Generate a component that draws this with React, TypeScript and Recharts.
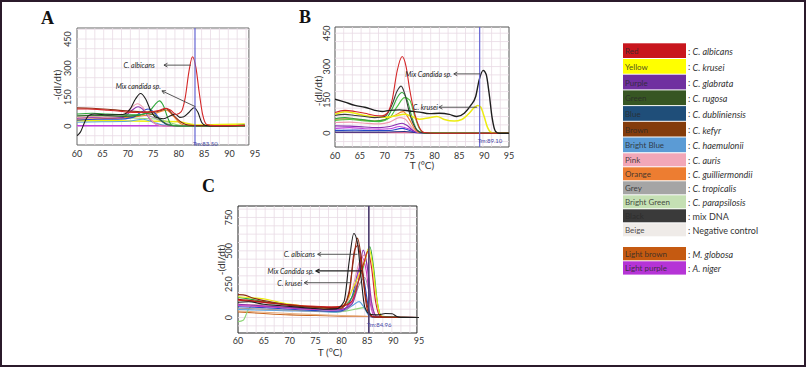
import React from "react";
import { LineChart, Line, XAxis, YAxis, ReferenceLine, ReferenceArea, ReferenceDot } from "recharts";

type Pt = [number, number];

const TEMP_TICKS = [60, 65, 70, 75, 80, 85, 90, 95];
const AB_Y_TICKS = [0, 150, 300, 450];
const C_Y_TICKS = [0, 250, 500, 750];

// ---- panel A : melt curves, -(dI/dt) vs T
const A_RED: Pt[] = [[60, 88], [62, 88], [64, 86], [66, 82], [68, 78], [70, 72], [72, 70], [74, 72], [76, 80], [77.5, 92], [78.5, 80], [79.5, 60], [80.5, 75], [81.3, 150], [82, 280], [82.7, 358], [83.4, 300], [84, 180], [84.7, 60], [85.5, 8], [87, 2], [93, 3]];
const A_BROWN: Pt[] = [[60, 94], [63, 92], [66, 87], [69, 80], [72, 75], [75, 72], [76.5, 80], [77.5, 90], [79, 55], [80.5, 20], [82, 5], [84, 2], [93, 2]];
const A_BLACK: Pt[] = [[60, -50], [60.7, -30], [61.5, 20], [62.3, 55], [63.5, 62], [66, 58], [69, 60], [70.5, 90], [71.5, 140], [72.5, 168], [73.5, 140], [74.5, 80], [75.5, 45], [77, 38], [78.5, 55], [79.3, 62], [80.2, 45], [81, 48], [82, 70], [83, 95], [83.8, 70], [84.5, 20], [85.3, 3], [87, 0], [93, 5]];
const A_GREEN: Pt[] = [[60, 62], [63, 66], [66, 62], [69, 58], [72, 58], [74, 70], [75.3, 110], [76.2, 130], [77, 105], [77.8, 45], [78.6, 5], [80, 0], [93, 0]];
const A_DKGREEN: Pt[] = [[60, 52], [63, 56], [66, 53], [69, 50], [72, 55], [73.5, 65], [75, 60], [76.5, 30], [78, 5], [80, 0], [93, 0]];
const A_PINK: Pt[] = [[60, 45], [63, 48], [66, 46], [69, 50], [70.5, 90], [71.9, 115], [73, 95], [74.2, 45], [75.5, 10], [77, 0], [93, 0]];
const A_PURPLE: Pt[] = [[60, 40], [63, 45], [66, 42], [69, 45], [70.5, 75], [72, 100], [73.2, 80], [74.5, 30], [76, 5], [78, 0], [93, 0]];
const A_BLUE: Pt[] = [[60, 30], [64, 35], [68, 35], [71, 45], [72.5, 70], [74, 88], [75.2, 70], [76.5, 30], [78, 5], [80, 0], [93, 0]];
const A_ORANGE: Pt[] = [[60, 35], [64, 38], [68, 40], [72, 50], [75, 62], [77.6, 82], [79, 50], [80.5, 10], [82, 0], [93, 3]];
const A_YELLOW: Pt[] = [[60, 28], [65, 28], [70, 26], [75, 25], [80, 22], [82, 12], [84, 5], [88, 8], [93, 10]];
const A_LTPURPLE: Pt[] = [[60, 2], [70, 2], [80, 1], [93, 2]];
const A_GREY: Pt[] = [[60, 55], [65, 55], [70, 52], [73, 58], [75, 45], [77, 20], [79, 3], [82, 0], [93, 0]];
const A_LTGREEN: Pt[] = [[60, 45], [64, 48], [68, 45], [72, 40], [76, 35], [78, 20], [80, 5], [82, 0], [93, 0]];
const A_LTBLUE: Pt[] = [[60, 20], [65, 22], [70, 25], [73, 35], [75, 20], [77, 5], [80, 0], [93, 0]];

// ---- panel B
const B_RED: Pt[] = [[60, 93], [62, 103], [64, 98], [66, 90], [68, 80], [69.5, 78], [70.5, 90], [71.5, 150], [72.5, 280], [73.5, 345], [74.3, 300], [75, 200], [76, 90], [77, 25], [78, 3], [80, 0], [95, 0]];
const B_BLACK: Pt[] = [[60, 153], [62, 140], [64, 125], [66, 117], [68, 103], [69.5, 98], [71, 103], [73, 105], [75, 100], [77, 95], [79, 88], [81, 90], [83, 85], [84.5, 75], [86, 90], [87.3, 125], [88.3, 165], [89, 240], [89.8, 283], [90.4, 265], [91, 180], [91.6, 70], [92.3, 8], [93, 0], [95, 0]];
const B_DKGREY: Pt[] = [[60, 80], [62, 85], [64, 80], [66, 75], [68, 70], [70, 75], [71.5, 130], [72.5, 190], [73.3, 212], [74, 180], [75, 90], [76, 30], [77, 5], [79, 0], [95, 0]];
const B_GREEN: Pt[] = [[60, 65], [62, 70], [64, 65], [66, 60], [68, 55], [70, 60], [71.5, 110], [72.5, 160], [73.5, 183], [74.5, 150], [75.5, 70], [76.5, 15], [78, 0], [95, 0]];
const B_GREEN2: Pt[] = [[60, 58], [63, 62], [66, 55], [69, 52], [71, 70], [72.5, 120], [74, 160], [75, 150], [76, 80], [77, 20], [78, 2], [95, 0]];
const B_ORANGE: Pt[] = [[60, 63], [63, 65], [66, 58], [68, 55], [70, 62], [72, 80], [73.7, 97], [75, 60], [76, 20], [77, 3], [95, 0]];
const B_PINK: Pt[] = [[60, 48], [63, 50], [66, 45], [69, 42], [71, 50], [73, 70], [74, 65], [75.5, 25], [77, 3], [95, 0]];
const B_PURPLE: Pt[] = [[60, 33], [63, 32], [66, 28], [69, 25], [71, 30], [73.5, 45], [74.5, 35], [76, 8], [78, 0], [95, 0]];
const B_BLUE: Pt[] = [[60, 13], [64, 14], [68, 12], [71, 12], [73.5, 22], [75, 12], [77, 2], [95, 0]];
const B_LTPURPLE: Pt[] = [[60, 22], [63, 25], [66, 20], [69, 18], [71, 20], [73, 30], [75, 18], [77, 3], [95, 0]];
const B_YELLOW: Pt[] = [[60, 85], [62, 97], [64, 90], [66, 80], [68, 72], [70, 72], [72, 78], [74, 85], [75.5, 75], [77, 63], [79, 70], [80.5, 75], [82, 62], [84, 55], [85.5, 62], [87, 90], [88, 115], [88.7, 125], [89.3, 118], [90, 75], [90.7, 25], [91.3, 5], [92, 0], [95, 0]];
const B_NAVY: Pt[] = [[60, 5], [70, 5], [74, 8], [77, 2], [95, 0]];
const B_PINKBASE: Pt[] = [[60, 3], [80, 2], [95, 2]];

// ---- panel C
const C_BLACK: Pt[] = [[60, 115], [62, 118], [65, 100], [68, 90], [71, 80], [74, 70], [77, 62], [79, 65], [80.5, 120], [81.5, 420], [82.4, 630], [83.1, 560], [83.8, 300], [84.5, 80], [85.5, 25], [87, 20], [88.5, 30], [89.8, 28], [90.7, 8], [91.5, 0], [95, 0]];
const C_BROWN: Pt[] = [[60, 172], [61, 170], [63, 145], [66, 120], [69, 100], [72, 85], [75, 75], [78, 68], [80, 70], [81.5, 200], [82.4, 450], [83.1, 595], [83.8, 460], [84.6, 180], [85.5, 30], [86.5, 3], [95, 0]];
const C_DKRED: Pt[] = [[60, 136], [63, 125], [66, 110], [69, 95], [72, 85], [75, 80], [78, 75], [80, 80], [81.5, 180], [82.5, 500], [83.2, 540], [84, 350], [85, 60], [86, 5], [95, 0]];
const C_YELLOW: Pt[] = [[60, 156], [62, 150], [65, 140], [68, 115], [71, 95], [74, 80], [77, 72], [80, 80], [82, 200], [83.5, 330], [84.5, 420], [85.3, 520], [86, 400], [86.8, 150], [87.5, 20], [88.5, 0], [95, 0]];
const C_GREEN: Pt[] = [[60, 150], [62, 140], [65, 120], [68, 105], [71, 90], [74, 80], [77, 75], [80, 80], [82, 150], [84, 350], [85.5, 530], [86.2, 380], [87, 100], [87.8, 10], [95, 0]];
const C_RED: Pt[] = [[60, 130], [63, 120], [66, 110], [69, 100], [72, 90], [75, 85], [78, 80], [80, 85], [82, 120], [83.5, 300], [84.5, 430], [85.1, 495], [85.8, 380], [86.6, 120], [87.4, 15], [88.5, 0], [95, 0]];
const C_PURPLE: Pt[] = [[60, 99], [63, 92], [66, 85], [69, 78], [72, 70], [75, 65], [78, 60], [80, 62], [82, 100], [83.4, 300], [84.2, 505], [85, 380], [85.8, 120], [86.8, 10], [95, 0]];
const C_MAGENTA: Pt[] = [[60, 90], [63, 85], [66, 80], [69, 72], [72, 65], [75, 60], [78, 55], [80, 60], [82, 120], [83.3, 350], [84, 450], [84.8, 350], [85.6, 100], [86.5, 5], [95, 0]];
const C_BLUE: Pt[] = [[60, 81], [63, 78], [66, 72], [69, 65], [72, 58], [75, 52], [78, 48], [80, 50], [82, 150], [83.7, 382], [84.5, 250], [85.3, 60], [86, 5], [95, 0]];
const C_PINK: Pt[] = [[60, 100], [63, 95], [66, 88], [70, 80], [74, 72], [78, 65], [80, 70], [82, 200], [83.5, 420], [84.5, 470], [85.3, 300], [86, 80], [87, 5], [95, 0]];
const C_LTBLUE: Pt[] = [[60, 60], [65, 55], [70, 50], [75, 45], [79, 40], [81, 60], [82.5, 100], [83.4, 119], [84.3, 80], [85.2, 20], [86, 0], [95, 0]];
const C_LTGREEN: Pt[] = [[60, -31], [61, -20], [62, 60], [63, 95], [66, 90], [70, 75], [75, 55], [79, 40], [81, 50], [83, 65], [84.3, 74], [85.2, 40], [86, 5], [95, 0]];
const C_ORANGE: Pt[] = [[60, 49], [65, 40], [70, 30], [75, 22], [80, 15], [85, 10], [90, 5], [95, 0]];
const C_LTBROWN: Pt[] = [[60, 42], [65, 30], [70, 20], [75, 15], [80, 10], [85, 8], [90, 2], [95, 0]];
const C_GREY: Pt[] = [[60, 70], [64, 65], [68, 58], [72, 52], [76, 45], [80, 48], [82, 100], [83.5, 250], [84.5, 300], [85.3, 200], [86, 60], [87, 3], [95, 0]];

// legend
const LEGEND_NAMES = ["Red", "Yellow", "Purple", "Green", "Blue", "Brown", "Bright Blue", "Pink", "Orange", "Grey", "Bright Green", "Black", "Beige", "Light brown", "Light purple"];
const LEGEND_SPECIES = ["C. albicans", "C. krusei", "C. glabrata", "C. rugosa", "C. dubliniensis", "C. kefyr", "C. haemulonii", "C. auris", "C. guilliermondii", "C. tropicalis", "C. parapsilosis", "mix DNA", "Negative control", "M. globosa", "A. niger"];
const LEGEND_COLORS = ["#c8161d", "#ffff00", "#7030a0", "#375623", "#1f4e79", "#843c0c", "#5b9bd5", "#f2a7b8", "#ed7d31", "#a5a5a5", "#c5e0b4", "#3a3a3a", "#efebe8", "#c55a11", "#b534d6"];

const C = {
  red: "#d42626", brown: "#8b2d12", black: "#1e1e1e", green: "#2fa83a", dkgreen: "#2d6e2a",
  pink: "#ef9ab0", purple: "#8a2fb0", ltpurple: "#c040e0", blue: "#2448c8", ltblue: "#5aa2e0",
  orange: "#f0802a", yellow: "#ecec10", grey: "#9a9a9a", ltgreen: "#8fd67a", ltbrown: "#c8641e", navy: "#283080",
};

type Series = { pts: Pt[]; color: string; w?: number };

const A_SERIES: Series[] = [
  { pts: A_LTPURPLE, color: C.ltpurple, w: 1.5 }, { pts: A_YELLOW, color: C.yellow, w: 1.5 }, { pts: A_LTBLUE, color: C.ltblue },
  { pts: A_LTGREEN, color: C.ltgreen }, { pts: A_GREY, color: C.grey }, { pts: A_ORANGE, color: C.orange },
  { pts: A_BLUE, color: C.blue }, { pts: A_PURPLE, color: C.purple }, { pts: A_PINK, color: C.pink },
  { pts: A_DKGREEN, color: C.dkgreen }, { pts: A_GREEN, color: C.green }, { pts: A_BROWN, color: C.brown },
  { pts: A_BLACK, color: C.black }, { pts: A_RED, color: C.red },
];
const B_SERIES: Series[] = [
  { pts: B_PINKBASE, color: "#e05080" }, { pts: B_NAVY, color: C.navy }, { pts: B_BLUE, color: C.blue },
  { pts: B_LTPURPLE, color: C.ltpurple }, { pts: B_PURPLE, color: C.purple }, { pts: B_PINK, color: C.pink },
  { pts: B_ORANGE, color: C.orange }, { pts: B_GREEN2, color: "#4cc43c" }, { pts: B_GREEN, color: C.green },
  { pts: B_YELLOW, color: C.yellow, w: 1.5 }, { pts: B_DKGREY, color: "#3c3c3c" }, { pts: B_RED, color: C.red },
  { pts: B_BLACK, color: C.black, w: 1.4 },
];
const C_SERIES: Series[] = [
  { pts: C_LTBROWN, color: C.ltbrown }, { pts: C_ORANGE, color: "#e8b080" }, { pts: C_LTGREEN, color: C.ltgreen },
  { pts: C_LTBLUE, color: C.ltblue }, { pts: C_GREY, color: C.grey }, { pts: C_BLUE, color: C.blue },
  { pts: C_PINK, color: C.pink }, { pts: C_MAGENTA, color: "#d040c0" }, { pts: C_PURPLE, color: C.purple },
  { pts: C_GREEN, color: C.green }, { pts: C_YELLOW, color: C.yellow }, { pts: C_RED, color: C.red },
  { pts: C_DKRED, color: "#b01818" }, { pts: C_BROWN, color: C.brown }, { pts: C_BLACK, color: C.black },
];

type Note = { text: string; tx: number; ty: number; x1: number; x2: number; y1: number; y2: number; heavy?: boolean };

const A_NOTES: Note[] = [
  { text: "C. albicans", tx: 75.3, ty: 315, x1: 77.1, y1: 315, x2: 82.4, y2: 315 },
  { text: "Mix candida sp.", tx: 76.5, ty: 205, x1: 76.7, y1: 182, x2: 83.3, y2: 100 },
];
const B_NOTES: Note[] = [
  { text: "Mix Candida sp.", tx: 83.5, ty: 267, x1: 83.9, y1: 267, x2: 89.2, y2: 267 },
  { text: "C. krusei", tx: 80.7, ty: 117, x1: 80.9, y1: 117, x2: 88.6, y2: 117 },
];
const C_NOTES: Note[] = [
  { text: "C. albicans", tx: 74.9, ty: 474, x1: 75.4, y1: 474, x2: 83.1, y2: 474 },
  { text: "Mix Candida sp.", tx: 74.7, ty: 349, x1: 75.1, y1: 349, x2: 84, y2: 349, heavy: true },
  { text: "C. krusei", tx: 72.4, ty: 261, x1: 72.8, y1: 261, x2: 81.9, y2: 261 },
];

const FONT = "Lato, 'Open Sans', sans-serif";
const GRID = "#e9dbe4";

function range(from: number, to: number, step: number) {
  const out: number[] = [];
  for (let v = from; v <= to + 1e-9; v += step) out.push(v);
  return out;
}

function Arrow(p: any) {
  const { x1, y1, x2, y2, stroke, strokeWidth } = p;
  const ang = Math.atan2(y2 - y1, x2 - x1);
  const L = 4;
  const a1 = ang + 0.5, a2 = ang - 0.5;
  return (
    <g>
      <line x1={x1} y1={y1} x2={x2} y2={y2} stroke={stroke} strokeWidth={strokeWidth} />
      <path
        d={`M${x1 + L * Math.cos(a1)},${y1 + L * Math.sin(a1)} L${x1},${y1} L${x1 + L * Math.cos(a2)},${y1 + L * Math.sin(a2)}`}
        fill="none" stroke={stroke} strokeWidth={strokeWidth} />
    </g>
  );
}

type PanelProps = {
  left: number; top: number; width: number; height: number;
  margin: { top: number; right: number; bottom: number; left: number };
  yDomain: [number, number]; yTicks: number[]; boxRight: number; yGridStep: number;
  series: Series[]; tm: number; tmLabel: string; tmLabelY: number; tmColor: string; tmWidth: number;
  notes: Note[]; border: string; tickDx: number; tickDy: number;
};

function Panel(p: PanelProps) {
  const vGrid = range(60 + 1.75, p.boxRight - 0.1, 1.75);
  const hGrid = range(Math.ceil(p.yDomain[0] / p.yGridStep) * p.yGridStep, p.yDomain[1], p.yGridStep);
  return (
    <div style={{ position: "absolute", left: p.left, top: p.top }}>
      <LineChart width={p.width} height={p.height} margin={p.margin}>
        <XAxis
          dataKey="t" type="number" domain={[60, 95]} ticks={TEMP_TICKS} allowDataOverflow
          axisLine={false} tickLine={false} tickSize={0} tickMargin={0} height={20}
          tick={(t: any) => (
            <text x={t.x} y={t.y + p.tickDy} textAnchor="middle" dominantBaseline="central" fontSize={9} fill="#333" fontFamily={FONT}>
              {t.payload.value}
            </text>
          )}
        />
        <YAxis
          type="number" domain={p.yDomain} ticks={p.yTicks} allowDataOverflow
          axisLine={false} tickLine={false} tickSize={0} tickMargin={0} width={20}
          tick={(t: any) => (
            <text x={t.x - p.tickDx} y={t.y} transform={`rotate(-90 ${t.x - p.tickDx} ${t.y})`} textAnchor="middle"
              dominantBaseline="central" fontSize={9} fill="#333" fontFamily={FONT}>
              {t.payload.value}
            </text>
          )}
        />
        {vGrid.map((v) => (
          <ReferenceLine key={"gv" + v} x={v} stroke={GRID} strokeWidth={0.8} />
        ))}
        {hGrid.map((v) => (
          <ReferenceLine key={"gh" + v} segment={[{ x: 60, y: v }, { x: p.boxRight, y: v }]} stroke={GRID} strokeWidth={0.8} />
        ))}
        {p.series.map((s, i) => (
          <Line key={i} data={s.pts.map(([t, v]) => ({ t, v }))} dataKey="v" type="monotone" stroke={s.color}
            strokeWidth={s.w ?? 1.1} dot={false} activeDot={false} isAnimationActive={false} />
        ))}
        <ReferenceLine x={p.tm} stroke={p.tmColor} strokeWidth={p.tmWidth} />
        <ReferenceDot x={p.tm} y={p.tmLabelY} r={0}
          shape={(d: any) => (
            <text x={d.cx - 2} y={d.cy} fontSize={6} fill="#4848a8" fontFamily={FONT} dominantBaseline="central">{p.tmLabel}</text>
          )} />
        {p.notes.map((n, i) => (
          <ReferenceLine key={"l" + i} segment={[{ x: n.x1, y: n.y1 }, { x: n.x2, y: n.y2 }]}
            stroke={n.heavy ? "#222" : "#444"} strokeWidth={n.heavy ? 1.3 : 0.9} shape={Arrow} />
        ))}
        {p.notes.map((n, i) => (
          <ReferenceDot key={"t" + i} x={n.tx} y={n.ty} r={0}
            shape={(d: any) => (
              <text x={d.cx} y={d.cy} textAnchor="end" dominantBaseline="central" fontSize={7} fontStyle="italic"
                fill="#222" fontFamily={FONT}>{n.text}</text>
            )} />
        ))}
        <ReferenceArea x1={60} x2={p.boxRight} y1={p.yDomain[0]} y2={p.yDomain[1]} fill="none" fillOpacity={0}
          stroke={p.border} strokeWidth={1} ifOverflow="visible" />
      </LineChart>
    </div>
  );
}

function Legend() {
  const rows: { y: number; h: number }[] = [];
  for (let i = 0; i < 7; i++) rows.push({ y: 43.3 + i * 15.7, h: 15.7 });
  for (let i = 0; i < 6; i++) rows.push({ y: 153.3 + i * 14, h: 14 });
  rows.push({ y: 247, h: 14.3 });
  rows.push({ y: 261.3, h: 14.3 });
  return (
    <g>
      {LEGEND_NAMES.map((name, i) => {
        const r = rows[i];
        const italic = !["mix DNA", "Negative control"].includes(LEGEND_SPECIES[i]);
        return (
          <g key={name}>
            <rect x={623} y={r.y} width={63} height={r.h - 1} fill={LEGEND_COLORS[i]} />
            <text x={625} y={r.y + r.h / 2} dominantBaseline="central" fontSize={8} fill="#2a2a2a" fillOpacity={0.85} fontFamily={FONT}>
              {name}
            </text>
            <text x={688} y={r.y + r.h / 2} dominantBaseline="central" fontSize={9} fill="#333" fontFamily={FONT}>
              :{" "}<tspan fontStyle={italic ? "italic" : "normal"}>{LEGEND_SPECIES[i]}</tspan>
            </text>
          </g>
        );
      })}
    </g>
  );
}

export default function App() {
  return (
    <div style={{ position: "absolute", left: 0, top: 0, width: 806, height: 367, background: "#fff", overflow: "hidden" }}>
      <Panel left={0} top={0} width={280} height={170}
        margin={{ top: 28, right: 25, bottom: 5, left: 57 }}
        yDomain={[-98, 507]} yTicks={AB_Y_TICKS} boxRight={93.8} yGridStep={50}
        series={A_SERIES} tm={83.2} tmLabel="Tm:83.50" tmLabelY={-88} tmColor="#6464d2" tmWidth={1.2}
        notes={A_NOTES} border="#666" tickDx={9} tickDy={8} />
      <Panel left={270} top={0} width={270} height={175}
        margin={{ top: 27, right: 31, bottom: 8, left: 45 }}
        yDomain={[-62, 478]} yTicks={AB_Y_TICKS} boxRight={95} yGridStep={37.5}
        series={B_SERIES} tm={89.1} tmLabel="Tm:89.10" tmLabelY={-33} tmColor="#6464d2" tmWidth={1.2}
        notes={B_NOTES} border="#555" tickDx={8} tickDy={8} />
      <Panel left={190} top={170} width={260} height={185}
        margin={{ top: 36, right: 31, bottom: 2, left: 28 }}
        yDomain={[-116, 836]} yTicks={C_Y_TICKS} boxRight={94.6} yGridStep={62.5}
        series={C_SERIES} tm={85.3} tmLabel="Tm:84.96" tmLabelY={-49} tmColor="#4a3b6b" tmWidth={1.6}
        notes={C_NOTES} border="#222" tickDx={9} tickDy={7} />
      <svg width={806} height={367} style={{ position: "absolute", left: 0, top: 0, pointerEvents: "none" }}>
        <text x={41} y={24} fontFamily="'Liberation Serif', 'DejaVu Serif', serif" fontWeight="bold" fontSize={18} fill="#111">A</text>
        <text x={299} y={23} fontFamily="'Liberation Serif', 'DejaVu Serif', serif" fontWeight="bold" fontSize={18} fill="#111">B</text>
        <text x={202} y={192} fontFamily="'Liberation Serif', 'DejaVu Serif', serif" fontWeight="bold" fontSize={18} fill="#111">C</text>
        <text x={57} y={85} transform="rotate(-90 57 85)" textAnchor="middle" dominantBaseline="central" fontSize={10} fill="#333" fontFamily={FONT}>-(dI/dt)</text>
        <text x={318} y={91} transform="rotate(-90 318 91)" textAnchor="middle" dominantBaseline="central" fontSize={10} fill="#333" fontFamily={FONT}>-(dI/dt)</text>
        <text x={221} y={260} transform="rotate(-90 221 260)" textAnchor="middle" dominantBaseline="central" fontSize={10} fill="#333" fontFamily={FONT}>-(dI/dt)</text>
        <text x={422} y={165} textAnchor="middle" dominantBaseline="central" fontSize={10} fill="#333" fontFamily={FONT}>T (°C)</text>
        <text x={330} y={352} textAnchor="middle" dominantBaseline="central" fontSize={10} fill="#333" fontFamily={FONT}>T (°C)</text>
        <Legend />
        <rect x={1} y={1} width={804} height={365} fill="none" stroke="#2b1a2b" strokeWidth={2} />
      </svg>
    </div>
  );
}
